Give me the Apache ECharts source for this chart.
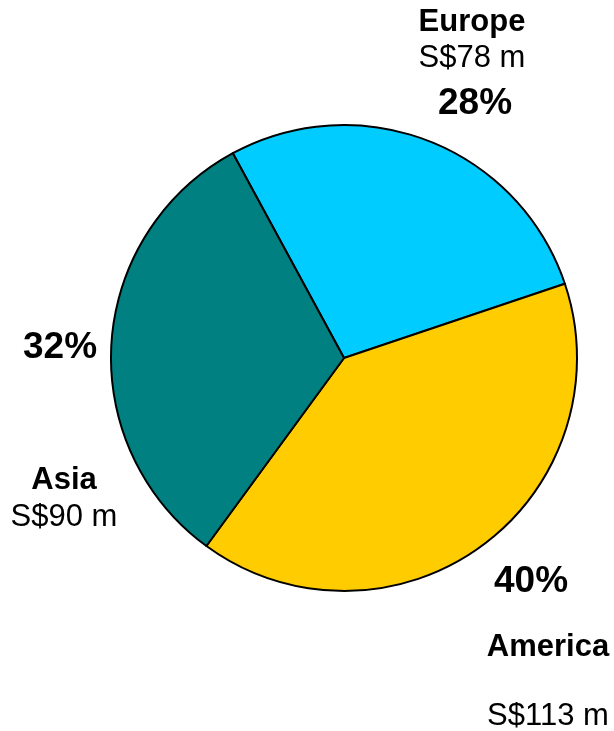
<!DOCTYPE html>
<html>
<head>
<meta charset="utf-8">
<style>
html,body{margin:0;padding:0;background:#fff;}
#chart{width:614px;height:731px;}
</style>
<script src="https://cdn.jsdelivr.net/npm/echarts@6/dist/echarts.min.js"></script>
</head>
<body>
<div id="chart"></div>
<script>
// Data
const categories = ['Europe', 'America', 'Asia'];
const values = [78, 113, 90];           // S$ million
const valueLabels = ['S$78 m', 'S$113 m', 'S$90 m'];
const colors = ['#00CCFF', '#FFCC00', '#008080'];

const total = values.reduce((a, b) => a + b, 0);
const pct = values.map(v => Math.round(v / total * 100) + '%');

// Label layout (positions only)
const FONT = 'Liberation Sans, Arial, sans-serif';
const layout = [
  { name: [472, 22], value: [472, 58], pct: [475, 104] },
  { name: [548, 647], value: [548, 716], pct: [531, 582] },
  { name: [64, 480], value: [64, 517], pct: [60, 348] }
];

const graphic = [];
categories.forEach((c, i) => {
  const L = layout[i];
  graphic.push({ type: 'text', x: L.name[0], y: L.name[1], style: { text: c, font: 'bold 31px ' + FONT, fill: '#000', align: 'center', verticalAlign: 'middle' } });
  graphic.push({ type: 'text', x: L.value[0], y: L.value[1], style: { text: valueLabels[i], font: '31px ' + FONT, fill: '#000', align: 'center', verticalAlign: 'middle' } });
  graphic.push({ type: 'text', x: L.pct[0], y: L.pct[1], style: { text: pct[i], font: 'bold 37px ' + FONT, fill: '#000', align: 'center', verticalAlign: 'middle' } });
});

const chart = echarts.init(document.getElementById('chart'), null, { renderer: 'canvas' });
chart.setOption({
  backgroundColor: '#fff',
  animation: false,
  graphic: graphic,
  series: [{
    type: 'pie',
    center: [344, 358],
    radius: 233,
    startAngle: 118.5,
    clockwise: true,
    label: { show: false },
    labelLine: { show: false },
    emphasis: { disabled: true },
    itemStyle: { borderColor: '#000', borderWidth: 2 },
    data: categories.map((c, i) => ({ name: c, value: values[i], itemStyle: { color: colors[i] } }))
  }]
});
</script>
</body>
</html>
